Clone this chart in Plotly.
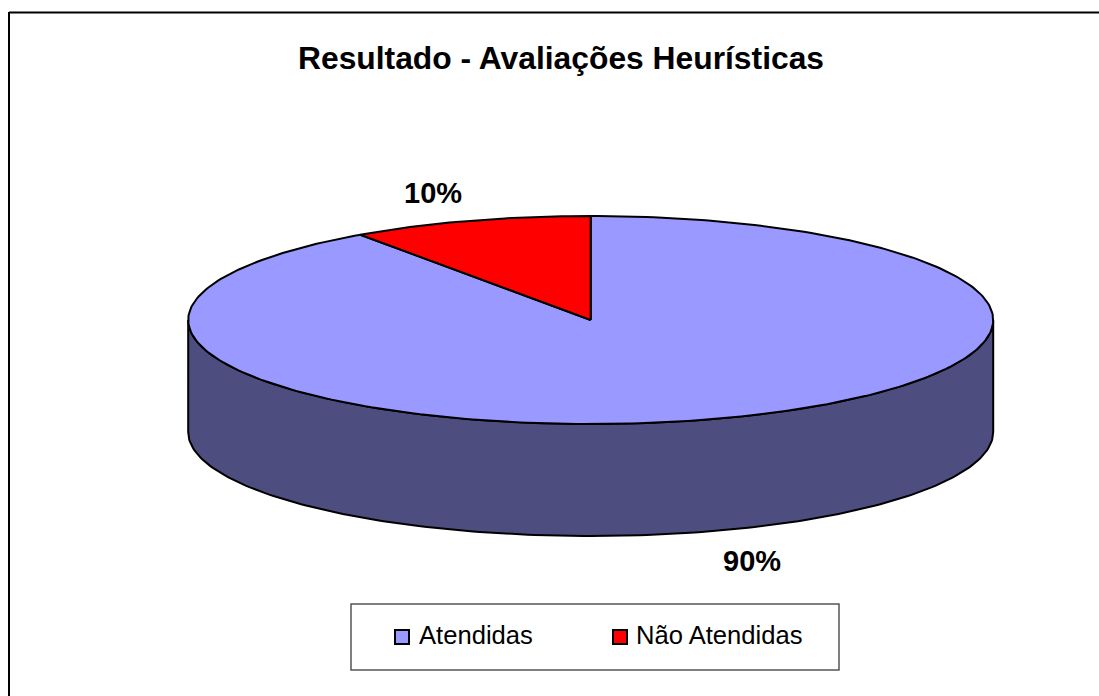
import numpy as np
import plotly.graph_objects as go

# Data
categories = ["Atendidas", "Não Atendidas"]
values = [90.3, 9.7]
colors = ["#9999FF", "#FF0000"]
side_color = "#4D4D7F"
title = "Resultado - Avaliações Heurísticas"

# Geometry (screen pixels)
W, H = 1099, 696
CX, CY, RX, RY, DEPTH = 590.7, 320, 402.5, 104, 112
FONT = "Liberation Sans"


def pt(t):
    """t = clockwise angle from 12 o'clock, in degrees."""
    a = np.radians(t)
    return CX + RX * np.sin(a), CY - RY * np.cos(a)


fig = go.Figure()

# Visible side wall (front half of the cylinder)
ft = np.linspace(90, 270, 181)
fx, fy = pt(ft)
fig.add_trace(go.Scatter(
    x=np.r_[fx, fx[::-1], fx[0]], y=np.r_[fy, fy[::-1] + DEPTH, fy[0]],
    mode="lines", fill="toself", fillcolor=side_color,
    line=dict(color="black", width=2), hoverinfo="skip", showlegend=False))

# Top face slices, clockwise from 12 o'clock
total = sum(values)
start = 0.0
for cat, val, col in zip(categories, values, colors):
    sweep = 360.0 * val / total
    t = np.linspace(start, start + sweep, max(int(sweep), 2) + 1)
    x, y = pt(t)
    fig.add_trace(go.Scatter(
        x=np.r_[CX, x, CX], y=np.r_[CY, y, CY],
        mode="lines", fill="toself", fillcolor=col,
        line=dict(color="black", width=2), name=cat, showlegend=False))
    start += sweep

annotations = [
    dict(x=561, y=58, text=f"<b>{title}</b>",
         font=dict(size=31.8, color="black", family=FONT)),
    dict(x=752, y=561, text=f"<b>{round(values[0])}%</b>",
         font=dict(size=29, color="black", family=FONT)),
    dict(x=433, y=193, text=f"<b>{round(values[1])}%</b>",
         font=dict(size=29, color="black", family=FONT)),
    dict(x=417, y=635, text=categories[0], xanchor="left",
         font=dict(size=25.6, color="black", family=FONT)),
    dict(x=634, y=635, text=categories[1], xanchor="left",
         font=dict(size=25.6, color="black", family=FONT)),
]
for a in annotations:
    a.update(xref="x", yref="y", showarrow=False)

shapes = [
    dict(type="line", x0=9, x1=W, y0=12.5, y1=12.5, line=dict(color="black", width=2)),
    dict(type="line", x0=9, x1=9, y0=12, y1=H, line=dict(color="black", width=2)),
    dict(type="rect", x0=351, x1=839, y0=604, y1=670, line=dict(color="#555555", width=1.5),
         fillcolor="white"),
    dict(type="rect", x0=395, x1=409, y0=630, y1=644, line=dict(color="black", width=2),
         fillcolor=colors[0]),
    dict(type="rect", x0=613, x1=627, y0=630, y1=644, line=dict(color="black", width=2),
         fillcolor=colors[1]),
]

fig.update_layout(
    width=W, height=H, margin=dict(l=0, r=0, t=0, b=0),
    paper_bgcolor="white", plot_bgcolor="white", showlegend=False,
    xaxis=dict(range=[0, W], visible=False, fixedrange=True),
    yaxis=dict(range=[H, 0], visible=False, fixedrange=True),
    annotations=annotations, shapes=shapes,
)
fig.write_html("out.html", post_script="document.body.style.margin='0';",
               config={"displayModeBar": False})
